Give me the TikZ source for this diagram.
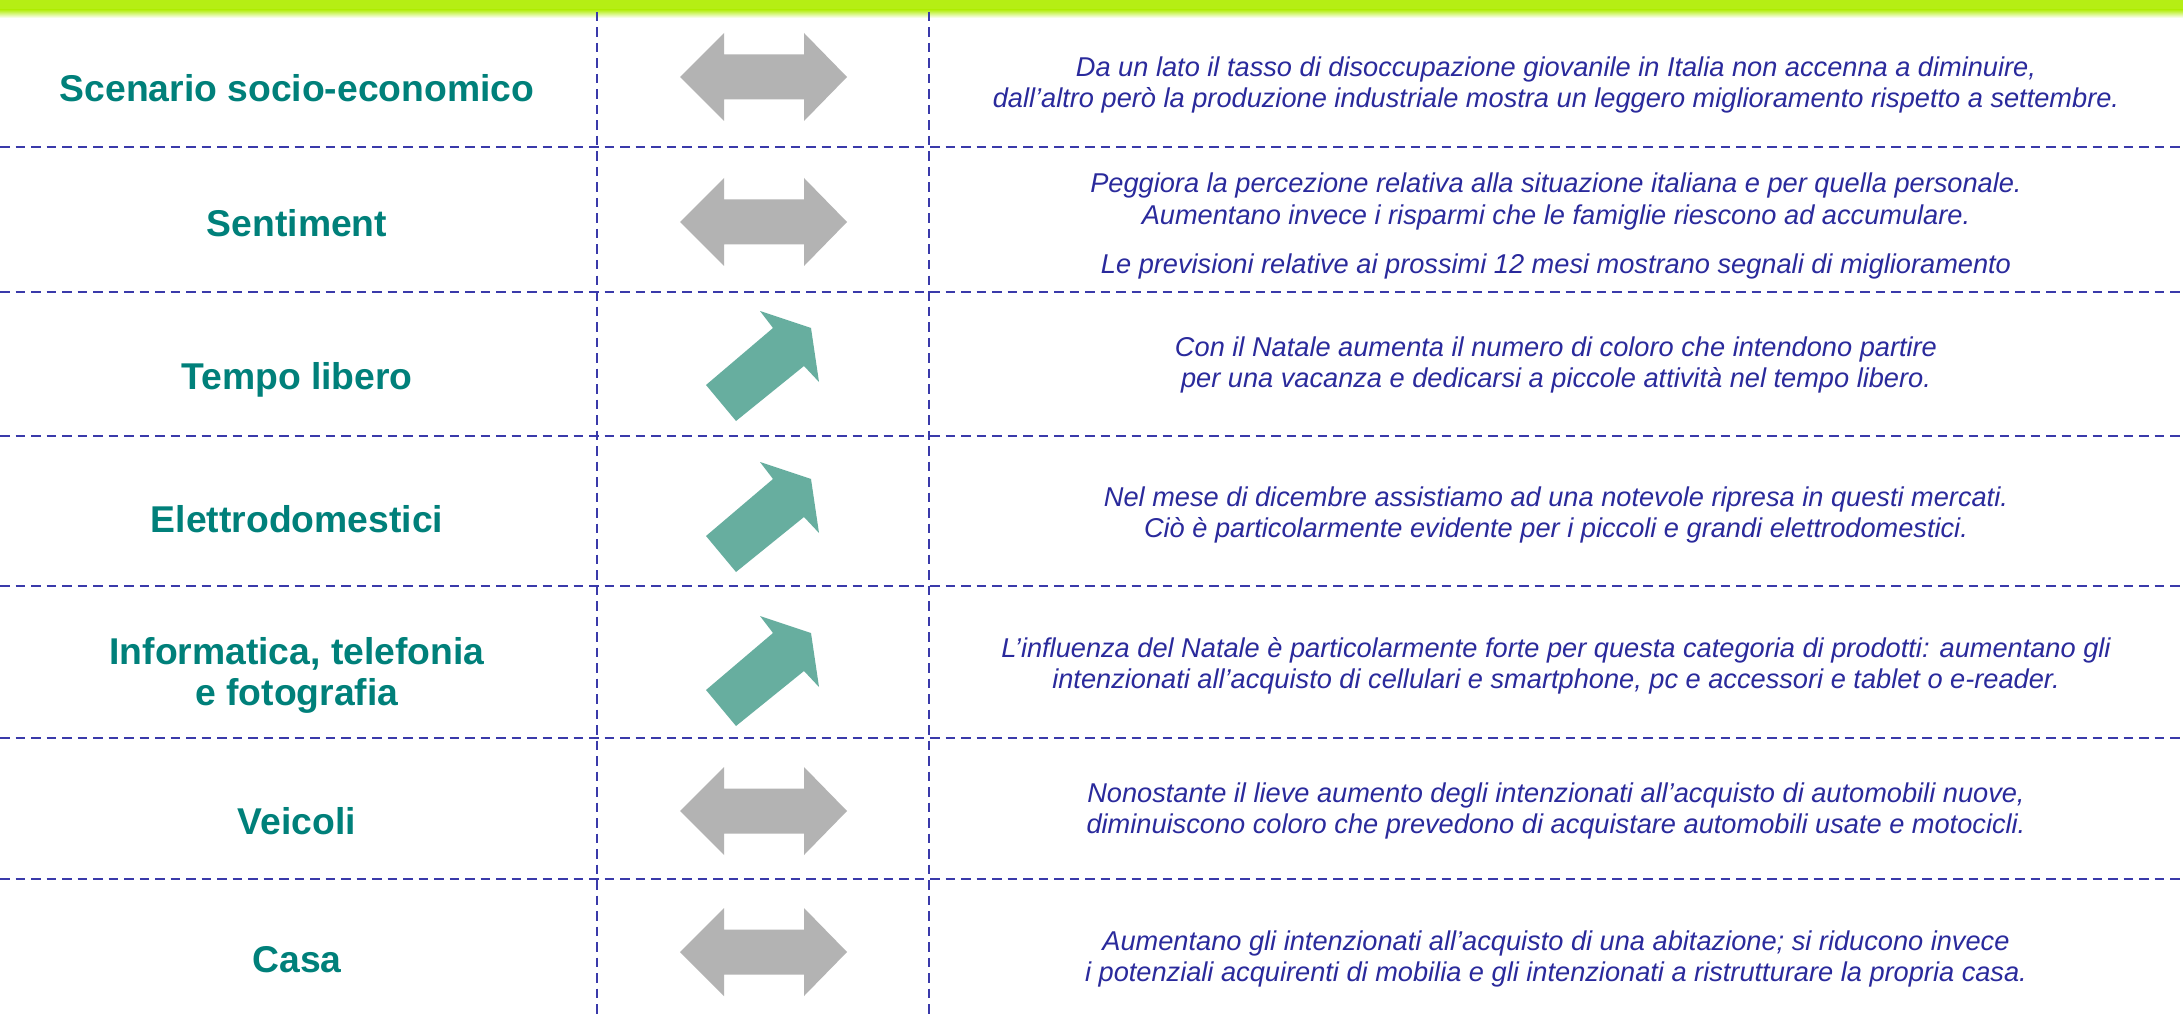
\documentclass[tikz,border=0pt]{standalone}
\usepackage{fontspec}
\setmainfont{Liberation Sans}
\definecolor{barGreen}{HTML}{B5EE14}
\definecolor{gridBlue}{HTML}{3A3AAA}
\definecolor{descBlue}{HTML}{2A2A9C}
\definecolor{labelTeal}{HTML}{00807A}
\definecolor{arrowGray}{HTML}{B3B3B3}
\definecolor{arrowTeal}{HTML}{67AE9F}
\tikzset{
  gridline/.style={draw=gridBlue, line width=2.4pt, dash pattern=on 9.5pt off 6pt},
  rowlabel/.style={anchor=base, inner sep=0pt, text=labelTeal, font=\fontsize{37.3}{44}\selectfont\bfseries},
  desc/.style={anchor=base, inner sep=0pt, text=descBlue, font=\fontsize{27.2}{32}\selectfont\itshape},
  flatarrow/.style={fill=arrowGray, draw=none},
  uparrow/.style={fill=arrowTeal, draw=none}
}
\newcommand{\dblarrow}[1]{%
  \fill[flatarrow] (680,#1) -- (724,#1-44) -- (724,#1-22.5) -- (804,#1-22.5) -- (804,#1-44)
    -- (847,#1) -- (804,#1+44) -- (804,#1+22.5) -- (724,#1+22.5) -- (724,#1+44) -- cycle;}
\newcommand{\riseArrow}[1]{%
  \fill[uparrow] (706,385+#1) -- (773,328+#1) -- (760,311+#1) -- (811,328+#1)
    -- (819,382+#1) -- (804,366+#1) -- (736,421+#1) -- cycle;}
\begin{document}
\begin{tikzpicture}[x=1pt,y=-1pt]
\useasboundingbox (0,0) rectangle (2183,1016);
\fill[white] (0,0) rectangle (2183,1016);
% top bar
\fill[barGreen] (0,0) rectangle (2183,10);
\shade[top color=barGreen, bottom color=white] (0,9.9) rectangle (2183,18);
% grid
\coordinate (vA1) at (597,12); \coordinate (vA2) at (597,1016);
\coordinate (vB1) at (929,12); \coordinate (vB2) at (929,1016);
\draw[gridline] (vA1) -- (vA2);
\draw[gridline] (vB1) -- (vB2);
\foreach \yy [count=\i] in {147,292,436,586,738,879}{
  \coordinate (hL\i) at (0,\yy); \coordinate (hR\i) at (2183,\yy);
  \draw[gridline] (hL\i) -- (hR\i);
}
% arrows
\dblarrow{77}
\dblarrow{222}
\riseArrow{0}
\riseArrow{151}
\riseArrow{305}
\dblarrow{811}
\dblarrow{952}
% labels
\node[rowlabel] (l1) at (297,102) {Scenario socio-economico};
\node[rowlabel] (l2) at (297,237) {Sentiment};
\node[rowlabel] (l3) at (297,389) {Tempo libero};
\node[rowlabel] (l4) at (297,532) {Elettrodomestici};
\node[rowlabel] (l5a) at (297,664) {Informatica, telefonia};
\node[rowlabel] (l5b) at (297,705) {e fotografia};
\node[rowlabel] (l6) at (297,834) {Veicoli};
\node[rowlabel] (l7) at (297,972) {Casa};
% descriptions
\node[desc] (d1a) at (1556,77) {Da un lato il tasso di disoccupazione giovanile in Italia non accenna a diminuire,};
\node[desc] (d1b) at (1556,108) {dall’altro però la produzione industriale mostra un leggero miglioramento rispetto a settembre.};
\node[desc] (d2a) at (1556,193) {Peggiora la percezione relativa alla situazione italiana e per quella personale.};
\node[desc] (d2b) at (1556,225) {Aumentano invece i risparmi che le famiglie riescono ad accumulare.};
\node[desc] (d2c) at (1556,273) {Le previsioni relative ai prossimi 12 mesi mostrano segnali di miglioramento};
\node[desc] (d3a) at (1556,356) {Con il Natale aumenta il numero di coloro che intendono partire};
\node[desc] (d3b) at (1556,387) {per una vacanza e dedicarsi a piccole attività nel tempo libero.};
\node[desc] (d4a) at (1556,506) {Nel mese di dicembre assistiamo ad una notevole ripresa in questi mercati.};
\node[desc] (d4b) at (1556,537) {Ciò è particolarmente evidente per i piccoli e grandi elettrodomestici.};
\node[desc] (d5a) at (1556,657) {L’influenza del Natale è particolarmente forte per questa categoria di prodotti: aumentano gli};
\node[desc] (d5b) at (1556,688) {intenzionati all’acquisto di cellulari e smartphone, pc e accessori e tablet o e-reader.};
\node[desc] (d6a) at (1556,802) {Nonostante il lieve aumento degli intenzionati all’acquisto di automobili nuove,};
\node[desc] (d6b) at (1556,833) {diminuiscono coloro che prevedono di acquistare automobili usate e motocicli.};
\node[desc] (d7a) at (1556,950) {Aumentano gli intenzionati all’acquisto di una abitazione; si riducono invece};
\node[desc] (d7b) at (1556,981) {i potenziali acquirenti di mobilia e gli intenzionati a ristrutturare la propria casa.};
\end{tikzpicture}
\end{document}
